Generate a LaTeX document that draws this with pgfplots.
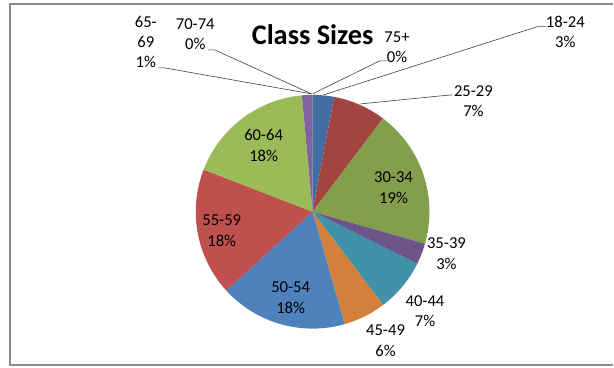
\documentclass[border=0pt]{standalone}
\usepackage{pgfplots}
\pgfplotsset{compat=1.18}
\usepackage{fontspec}
\setmainfont{Carlito}
\definecolor{cA}{HTML}{436EA1}
\definecolor{cB}{HTML}{A34441}
\definecolor{cC}{HTML}{849F4C}
\definecolor{cD}{HTML}{6D558A}
\definecolor{cE}{HTML}{4092A8}
\definecolor{cF}{HTML}{D2803C}
\definecolor{cG}{HTML}{4F81BD}
\definecolor{cH}{HTML}{C0504D}
\definecolor{cI}{HTML}{9BBB59}
\definecolor{cJ}{HTML}{8064A2}
% counts per class (total 68); #1 = count before, #2 = count
\newcommand\slice[3]{\addplot[fill=#3,draw=none,domain={90-(#1+#2)*360/68}:{90-(#1)*360/68},samples=60,variable=\t] ({313+117*cos(\t)},{156+117*sin(\t)}) -- (axis cs:313,156) -- cycle;}
\begin{document}
\begin{tikzpicture}
\begin{axis}[x=1bp,y=1bp,xmin=0,xmax=614,ymin=0,ymax=368,hide axis,clip=false,scale only axis]
\path (axis cs:0,0) rectangle (axis cs:614,368);
\draw[color=black!45,line width=1.5bp] (axis cs:614,364) -- (axis cs:10,364) -- (axis cs:10,2.5) -- (axis cs:614,2.5);
\slice{0}{2}{cA}   % 18-24
\slice{2}{5}{cB}   % 25-29
\slice{7}{13}{cC}  % 30-34
\slice{20}{2}{cD}  % 35-39
\slice{22}{5}{cE}  % 40-44
\slice{27}{4}{cF}  % 45-49
\slice{31}{12}{cG} % 50-54
\slice{43}{12}{cH} % 55-59
\slice{55}{12}{cI} % 60-64
\slice{67}{1}{cJ}  % 65-69
% 70-74 : 0, 75+ : 0
\node[anchor=base,font=\fontsize{28.5}{34}\selectfont\bfseries,inner sep=0] at (axis cs:313,323) {Class Sizes};
% leader lines
\draw[black!75,line width=0.6bp] (axis cs:158,300) -- (axis cs:165,300) -- (axis cs:312,274);
\draw[black!75,line width=0.6bp] (axis cs:208,318) -- (axis cs:215,318) -- (axis cs:312,274);
\draw[black!75,line width=0.6bp] (axis cs:388,307) -- (axis cs:380,307) -- (axis cs:313,274);
\draw[black!75,line width=0.6bp] (axis cs:547,341.3) -- (axis cs:538,341.3) -- (axis cs:324,273);
\draw[black!75,line width=0.6bp] (axis cs:453,273) -- (axis cs:441,272) -- (axis cs:361,264);
\tikzset{lab/.style={align=center,inner sep=0,font=\fontsize{16.7}{20.5}\selectfont}}
\node[lab] at (axis cs:566,336) {18-24\\3\%};
\node[lab] at (axis cs:474,267) {25-29\\7\%};
\node[lab] at (axis cs:397.5,321) {75+\\0\%};
\node[lab] at (axis cs:195.5,334) {70-74\\0\%};
\node[lab] at (axis cs:146,326) {65-\\69\\1\%};
\node[lab] at (axis cs:447,114) {35-39\\3\%};
\node[lab] at (axis cs:425.5,56.3) {40-44\\7\%};
\node[lab] at (axis cs:386,27) {45-49\\6\%};
\node[lab] at (axis cs:394,180) {30-34\\19\%};
\node[lab] at (axis cs:264,222.5) {60-64\\18\%};
\node[lab] at (axis cs:222,137) {55-59\\18\%};
\node[lab] at (axis cs:291,70) {50-54\\18\%};
\end{axis}
\end{tikzpicture}
\end{document}
